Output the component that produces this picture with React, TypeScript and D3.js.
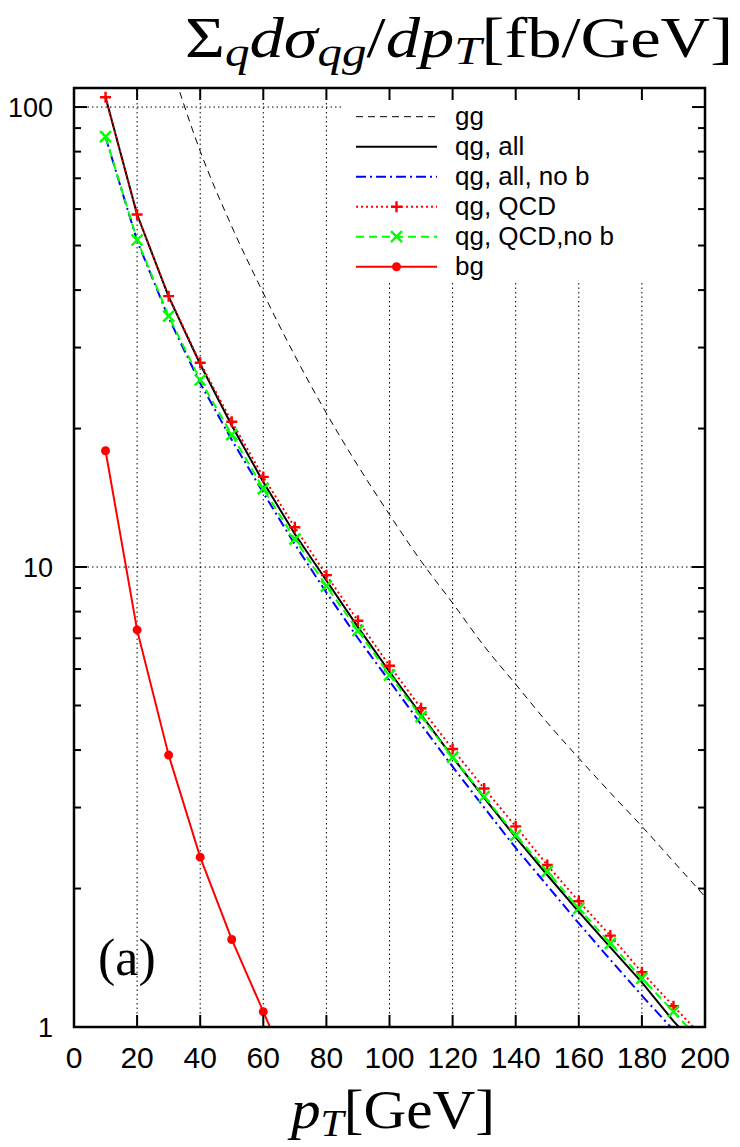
import React from "react";
import * as d3 from "d3";

// ---- data ----
const pT = [10, 20, 30, 40, 50, 60, 70, 80, 90, 100, 110, 120, 130, 140, 150, 160, 170, 180, 190, 200];
const ggPt = [30, 40, 50, 60, 70, 80, 90, 100, 110, 120, 130, 140, 150, 160, 170, 180, 190, 200];
const ggVals = [128, 80.2, 55, 39.4, 28.8, 21.6, 16.6, 13.0, 10.3, 8.35, 6.73, 5.56, 4.59, 3.84, 3.23, 2.73, 2.29, 1.92];
const qgAll = [105, 58.4, 38.7, 27.6, 20.3, 15.3, 11.8, 9.35, 7.4, 5.92, 4.78, 3.86, 3.15, 2.585, 2.14, 1.78, 1.49, 1.25, 1.03, 0.87];
const qgAllNoB = [86, 51.2, 34.8, 25.1, 18.9, 14.5, 11.2, 8.8, 7.0, 5.65, 4.55, 3.68, 3.0, 2.45, 2.03, 1.68, 1.4, 1.17, 0.985, 0.83];
const qgQCD = [105, 58.4, 38.8, 27.8, 20.7, 15.7, 12.2, 9.6, 7.64, 6.1, 4.93, 4.02, 3.3, 2.73, 2.25, 1.876, 1.58, 1.315, 1.11, 0.94];
const qgQCDNoB = [86.2, 51.4, 35.1, 25.5, 19.4, 14.8, 11.5, 9.09, 7.27, 5.82, 4.73, 3.86, 3.17, 2.61, 2.18, 1.81, 1.52, 1.276, 1.08, 0.91];
const bgPt = [10, 20, 30, 40, 50, 60, 70];
const bgVals = [17.9, 7.3, 3.9, 2.34, 1.55, 1.08, 0.75];

const xTicks = [0, 20, 40, 60, 80, 100, 120, 140, 160, 180, 200];
const xGrid = [20, 40, 60, 80, 100, 120, 140, 160, 180];
const yTicks = [1, 10, 100];
const yTickLabels = ["1", "10", "100"];
const legendLabels = ["gg", "qg, all", "qg, all, no b", "qg, QCD", "qg, QCD,no b", "bg"];

const L = 74, R = 705, T = 88, B = 1027;
const x = d3.scaleLinear().domain([0, 200]).range([L, R]);
const y = d3.scaleLog().domain([1, 110]).range([B, T]);

const keyL = 341, keyB = 283;

function pts(xs: number[], ys: number[]): [number, number][] {
  return xs.map((p, i) => [x(p), y(ys[i])] as [number, number]);
}

const lineGen = d3.line<[number, number]>();
const smoothGen = d3.line<[number, number]>().curve(d3.curveMonotoneX);

const series = [
  { label: legendLabels[0], d: smoothGen(pts(ggPt, ggVals)), color: "#000", w: 1, dash: "7,5", marker: "" },
  { label: legendLabels[1], d: lineGen(pts(pT, qgAll)), color: "#000", w: 2, dash: "", marker: "" },
  { label: legendLabels[2], d: lineGen(pts(pT, qgAllNoB)), color: "#0000ff", w: 2, dash: "10,4,2,4", marker: "" },
  { label: legendLabels[3], d: lineGen(pts(pT, qgQCD)), color: "#ff0000", w: 2, dash: "2,3", marker: "plus" },
  { label: legendLabels[4], d: lineGen(pts(pT, qgQCDNoB)), color: "#00ff00", w: 2, dash: "8,5", marker: "cross" },
  { label: legendLabels[5], d: lineGen(pts(bgPt, bgVals)), color: "#ff0000", w: 2, dash: "", marker: "dot" },
];

function Marker({ kind, cx, cy, color }: { kind: string; cx: number; cy: number; color: string }) {
  const s = 5.5;
  if (kind === "plus")
    return (
      <path d={`M${cx - s},${cy}H${cx + s}M${cx},${cy - s}V${cy + s}`} stroke={color} strokeWidth={2.4} fill="none" />
    );
  if (kind === "cross")
    return (
      <path d={`M${cx - s},${cy - s}L${cx + s},${cy + s}M${cx - s},${cy + s}L${cx + s},${cy - s}`} stroke={color} strokeWidth={2.4} fill="none" />
    );
  if (kind === "dot") return <circle cx={cx} cy={cy} r={4.5} fill={color} />;
  return null;
}

const markerData: Record<string, [number[], number[]]> = {
  plus: [pT, qgQCD],
  cross: [pT, qgQCDNoB],
  dot: [bgPt, bgVals],
};

export default function App() {
  const minor: number[] = [];
  [1, 10].forEach((dec) => {
    for (let k = 2; k <= 9; k++) minor.push(dec * k);
  });

  return (
    <svg width={740} height={1147} style={{ position: "absolute", left: 0, top: 0, background: "#fff" }}
      fontFamily="'Liberation Sans', Arial, sans-serif">
      <defs>
        <clipPath id="plotClip">
          <rect x={L} y={T} width={R - L} height={B - T} />
        </clipPath>
      </defs>
      <rect x={0} y={0} width={740} height={1147} fill="#fff" />

      {/* grid */}
      <g stroke="#000" strokeWidth={1} strokeDasharray="1.5,3" fill="none">
        {xGrid.map((g) => (
          <line key={g} x1={x(g)} x2={x(g)} y1={B} y2={x(g) < keyL ? T : keyB} />
        ))}
        <line x1={L} x2={keyL} y1={y(100)} y2={y(100)} />
        <line x1={L} x2={R} y1={y(10)} y2={y(10)} />
      </g>

      {/* series */}
      <g clipPath="url(#plotClip)">
        {series.map((s, i) => (
          <path key={i} d={s.d || ""} fill="none" stroke={s.color} strokeWidth={s.w}
            strokeDasharray={s.dash || undefined} strokeLinejoin="round" />
        ))}
        {series.filter((s) => s.marker).map((s) =>
          markerData[s.marker][0].map((p, j) => (
            <Marker key={s.marker + j} kind={s.marker} cx={x(p)} cy={y(markerData[s.marker][1][j])} color={s.color} />
          ))
        )}
      </g>

      {/* legend */}
      <g>
        {series.map((s, i) => {
          const ry = 116.7 + i * 30;
          return (
            <g key={i}>
              <line x1={356} x2={437} y1={ry} y2={ry} stroke={s.color} strokeWidth={s.w}
                strokeDasharray={s.dash || undefined} />
              {s.marker && <Marker kind={s.marker} cx={396.5} cy={ry} color={s.color} />}
              <text x={455} y={ry + 8.5} fontSize={26} fill="#000">{s.label}</text>
            </g>
          );
        })}
      </g>

      {/* ticks */}
      <g stroke="#000" strokeWidth={2}>
        {xTicks.map((t) => (
          <g key={t}>
            <line x1={x(t)} x2={x(t)} y1={B} y2={B - 12} />
            <line x1={x(t)} x2={x(t)} y1={T} y2={T + 12} />
          </g>
        ))}
        {yTicks.map((t) => (
          <g key={t}>
            <line x1={L} x2={L + 13} y1={y(t)} y2={y(t)} />
            <line x1={R} x2={R - 13} y1={y(t)} y2={y(t)} />
          </g>
        ))}
        {minor.filter((m) => m !== 10).map((m) => (
          <g key={m}>
            <line x1={L} x2={L + 7} y1={y(m)} y2={y(m)} />
            <line x1={R} x2={R - 7} y1={y(m)} y2={y(m)} />
          </g>
        ))}
      </g>

      {/* border */}
      <rect x={L} y={T} width={R - L} height={B - T} fill="none" stroke="#000" strokeWidth={2.5} />

      {/* tick labels */}
      <g fontSize={30} textAnchor="middle" fill="#000">
        {xTicks.map((t) => (
          <text key={t} x={x(t)} y={1068}>{t}</text>
        ))}
      </g>
      <g fontSize={27} textAnchor="end" fill="#000">
        {yTicks.map((t, i) => (
          <text key={t} x={53} y={y(t) + 10}>{yTickLabels[i]}</text>
        ))}
      </g>

      {/* title */}
      <text x={185} y={57} fontFamily="'Liberation Serif', 'DejaVu Serif', serif" fontSize={56} fill="#000"
        textLength={548} lengthAdjust="spacingAndGlyphs">
        <tspan>Σ</tspan>
        <tspan fontStyle="italic" fontSize={40} dy={9}>q</tspan>
        <tspan fontStyle="italic" dy={-9}>dσ</tspan>
        <tspan fontStyle="italic" fontSize={40} dy={9}>qg</tspan>
        <tspan dy={-9}>/</tspan>
        <tspan fontStyle="italic">dp</tspan>
        <tspan fontStyle="italic" fontSize={40} dy={7}>T</tspan>
        <tspan dy={-7}>[fb/GeV]</tspan>
      </text>

      {/* x label */}
      <text x={291} y={1128} fontFamily="'Liberation Serif', 'DejaVu Serif', serif" fontSize={54} fill="#000"
        textLength={204} lengthAdjust="spacingAndGlyphs">
        <tspan fontStyle="italic">p</tspan>
        <tspan fontStyle="italic" fontSize={38} dy={8}>T</tspan>
        <tspan dy={-8}>[GeV]</tspan>
      </text>

      {/* panel label */}
      <text x={98} y={975} fontFamily="'Liberation Serif', 'DejaVu Serif', serif" fontSize={52} fill="#000">(a)</text>
    </svg>
  );
}
